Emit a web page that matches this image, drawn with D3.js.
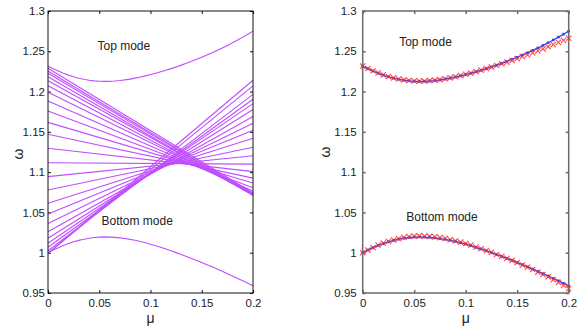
<!DOCTYPE html>
<html>
<head>
<meta charset="utf-8">
<script src="https://cdn.jsdelivr.net/npm/d3@7"></script>
<style>
  body { margin: 0; background: #fff; }
  svg text { font-family: "Liberation Sans", Arial, sans-serif; fill: #222; }
</style>
</head>
<body>
<svg id="chart" width="581" height="329"></svg>
<script>
// sample points along mu
const mu = [0, 0.005, 0.01, 0.015, 0.02, 0.025, 0.03, 0.035, 0.04, 0.045, 0.05, 0.055, 0.06, 0.065, 0.07,
  0.075, 0.08, 0.085, 0.09, 0.095, 0.1, 0.105, 0.11, 0.115, 0.12, 0.125, 0.13, 0.135, 0.14, 0.145, 0.15,
  0.155, 0.16, 0.165, 0.17, 0.175, 0.18, 0.185, 0.19, 0.195, 0.2];

// top / bottom mode (blue in right panel, purple in left)
const topBlue = [1.2315, 1.2284, 1.2255, 1.2228, 1.2204, 1.2183, 1.2166, 1.2152, 1.2141, 1.2133, 1.2128,
  1.2126, 1.2127, 1.2131, 1.2137, 1.2145, 1.2155, 1.2167, 1.2180, 1.2195, 1.2211, 1.2228, 1.2246, 1.2265,
  1.2285, 1.2306, 1.2328, 1.2351, 1.2375, 1.2400, 1.2426, 1.2453, 1.2481, 1.2511, 1.2541, 1.2573, 1.2606,
  1.2640, 1.2676, 1.2712, 1.2750];
const bottomBlue = [1.0000, 1.0033, 1.0063, 1.0090, 1.0114, 1.0135, 1.0153, 1.0168, 1.0180, 1.0189, 1.0194,
  1.0196, 1.0194, 1.0190, 1.0184, 1.0176, 1.0166, 1.0154, 1.0140, 1.0124, 1.0106, 1.0087, 1.0067, 1.0046,
  1.0024, 1.0001, 0.9978, 0.9954, 0.9929, 0.9904, 0.9878, 0.9852, 0.9825, 0.9797, 0.9769, 0.9740, 0.9711,
  0.9681, 0.9651, 0.9620, 0.9589];

// red crosses (right panel)
const topRed = [1.2316, 1.2286, 1.2258, 1.2232, 1.2208, 1.2187, 1.2170, 1.2156, 1.2145, 1.2137, 1.2132,
  1.2130, 1.2131, 1.2135, 1.2141, 1.2149, 1.2159, 1.2171, 1.2184, 1.2199, 1.2214, 1.2230, 1.2247, 1.2266,
  1.2285, 1.2304, 1.2324, 1.2345, 1.2366, 1.2388, 1.2410, 1.2433, 1.2456, 1.2481, 1.2505, 1.2531, 1.2557,
  1.2583, 1.2610, 1.2636, 1.2662];
const bottomRed = [1.0000, 1.0033, 1.0063, 1.0095, 1.0119, 1.0140, 1.0158, 1.0173, 1.0192, 1.0201, 1.0206,
  1.0208, 1.0206, 1.0202, 1.0196, 1.0188, 1.0178, 1.0162, 1.0148, 1.0132, 1.0114, 1.0095, 1.0070, 1.0049,
  1.0027, 1.0004, 0.9978, 0.9954, 0.9929, 0.9904, 0.9878, 0.9847, 0.9820, 0.9792, 0.9759, 0.9730, 0.9701,
  0.9666, 0.9631, 0.9593, 0.9554];

// band of modes in the left panel: value at mu = 0 and at mu = 0.2
const fanMu = [0, 0.2];
const fanStart = [1.229, 1.2255, 1.2227, 1.2185, 1.2135, 1.2073, 1.1991, 1.1883, 1.1759, 1.1618, 1.147,
  1.1296, 1.1117, 1.0944, 1.0778, 1.0613, 1.048, 1.0364, 1.0261, 1.0179, 1.0117, 1.0067, 1.0025, 0.9995, 0.999];
const fanEnd = [1.074, 1.0725, 1.0718, 1.071, 1.0725, 1.0723, 1.074, 1.0767, 1.0805, 1.0866, 1.0926,
  1.1007, 1.110, 1.1203, 1.131, 1.142, 1.152, 1.1607, 1.169, 1.1777, 1.185, 1.1905, 1.1965, 1.207, 1.214];

const xTicks = [0, 0.05, 0.1, 0.15, 0.2];
const xTickLabels = ["0", "0.05", "0.1", "0.15", "0.2"];
const yTicks = [0.95, 1, 1.05, 1.1, 1.15, 1.2, 1.25, 1.3];
const yTickLabels = ["0.95", "1", "1.05", "1.1", "1.15", "1.2", "1.25", "1.3"];

const PURPLE = "#bf4dff";
const BLUE = "#2a48ff";
const RED = "#ff2a2a";
const TOP = 11;
const BOTTOM = 293;

const svg = d3.select("#chart");

function drawPanel(left, right, frameColor, frameWidth, labelPad) {
  const x = d3.scaleLinear().domain([0, 0.2]).range([left, right]);
  const y = d3.scaleLinear().domain([0.95, 1.3]).range([BOTTOM, TOP]);
  const g = svg.append("g");

  const styleAxis = (sel) => {
    sel.select(".domain").remove();
    sel.selectAll("line").attr("stroke", frameColor).attr("stroke-width", frameWidth);
    sel.selectAll("text").attr("font-size", 11.5).attr("fill", "#222");
  };

  g.append("g")
    .attr("transform", `translate(0,${BOTTOM})`)
    .call(d3.axisBottom(x).tickValues(xTicks).tickFormat((d, i) => xTickLabels[i])
      .tickSizeInner(-3).tickSizeOuter(0).tickPadding(6))
    .call(styleAxis);
  g.append("g")
    .attr("transform", `translate(0,${TOP})`)
    .call(d3.axisTop(x).tickValues(xTicks).tickFormat("").tickSizeInner(-3).tickSizeOuter(0))
    .call(styleAxis);
  g.append("g")
    .attr("transform", `translate(${left},0)`)
    .call(d3.axisLeft(y).tickValues(yTicks).tickFormat((d, i) => yTickLabels[i])
      .tickSizeInner(-3).tickSizeOuter(0).tickPadding(labelPad))
    .call(styleAxis);
  g.append("g")
    .attr("transform", `translate(${right},0)`)
    .call(d3.axisRight(y).tickValues(yTicks).tickFormat("").tickSizeInner(-3).tickSizeOuter(0))
    .call(styleAxis);

  g.append("text")
    .attr("x", (left + right) / 2)
    .attr("y", 323)
    .attr("text-anchor", "middle")
    .attr("font-size", 14)
    .text("μ");

  return { g, x, y };
}

function frame(p, color, width) {
  const [x0, x1] = p.x.range();
  p.g.append("rect")
    .attr("x", x0).attr("y", TOP)
    .attr("width", x1 - x0).attr("height", BOTTOM - TOP)
    .attr("fill", "none")
    .attr("stroke", color)
    .attr("stroke-width", width);
}

function yLabel(xPos, yPos) {
  svg.append("text")
    .attr("transform", `translate(${xPos},${yPos}) rotate(-90)`)
    .attr("text-anchor", "middle")
    .attr("font-size", 14)
    .text("ω");
}

function note(p, text, mx, wy) {
  p.g.append("text")
    .attr("x", p.x(mx))
    .attr("y", p.y(wy))
    .attr("text-anchor", "middle")
    .attr("dy", "0.35em")
    .attr("font-size", 12)
    .text(text);
}

// ---- left panel
const leftPanel = drawPanel(48, 253, "#111", 1, 3);
const lineL = d3.line().x((d) => leftPanel.x(d[0])).y((d) => leftPanel.y(d[1]));

leftPanel.g.append("g")
  .selectAll("path")
  .data(fanStart.map((a, i) => [[fanMu[0], a], [fanMu[1], fanEnd[i]]]))
  .enter()
  .append("path")
  .attr("d", lineL)
  .attr("fill", "none")
  .attr("stroke", PURPLE)
  .attr("stroke-width", 1.1);

[topBlue, bottomBlue].forEach((series) => {
  leftPanel.g.append("path")
    .attr("d", lineL(mu.map((m, i) => [m, series[i]])))
    .attr("fill", "none")
    .attr("stroke", PURPLE)
    .attr("stroke-width", 1.1);
});
frame(leftPanel, "#111", 1);
note(leftPanel, "Top mode", 0.074, 1.257);
note(leftPanel, "Bottom mode", 0.087, 1.039);
yLabel(23, 154);

// ---- right panel
const rightPanel = drawPanel(362.7, 568.7, "#6a6a6a", 1.5, 6);
const lineR = d3.line().x((d) => rightPanel.x(d[0])).y((d) => rightPanel.y(d[1]));

[topBlue, bottomBlue].forEach((series) => {
  const pts = mu.map((m, i) => [m, series[i]]);
  rightPanel.g.append("path")
    .attr("d", lineR(pts))
    .attr("fill", "none")
    .attr("stroke", BLUE)
    .attr("stroke-width", 1.3);
  rightPanel.g.append("g")
    .selectAll("rect")
    .data(pts)
    .enter()
    .append("rect")
    .attr("x", (d) => rightPanel.x(d[0]) - 1.3)
    .attr("y", (d) => rightPanel.y(d[1]) - 1.3)
    .attr("width", 2.6)
    .attr("height", 2.6)
    .attr("fill", BLUE);
});

[topRed, bottomRed].forEach((series) => {
  const pts = mu.map((m, i) => [m, series[i]]);
  rightPanel.g.append("g")
    .selectAll("path")
    .data(pts)
    .enter()
    .append("path")
    .attr("d", (d) => {
      const cx = rightPanel.x(d[0]);
      const cy = rightPanel.y(d[1]);
      const r = 2.7;
      return `M${cx - r},${cy - r}L${cx + r},${cy + r}M${cx - r},${cy + r}L${cx + r},${cy - r}`;
    })
    .attr("stroke", RED)
    .attr("stroke-width", 1.1)
    .attr("stroke-opacity", 0.85)
    .attr("fill", "none");
});
frame(rightPanel, "#6a6a6a", 1.5);
note(rightPanel, "Top mode", 0.061, 1.262);
note(rightPanel, "Bottom mode", 0.077, 1.044);
yLabel(330, 152);
</script>
</body>
</html>
